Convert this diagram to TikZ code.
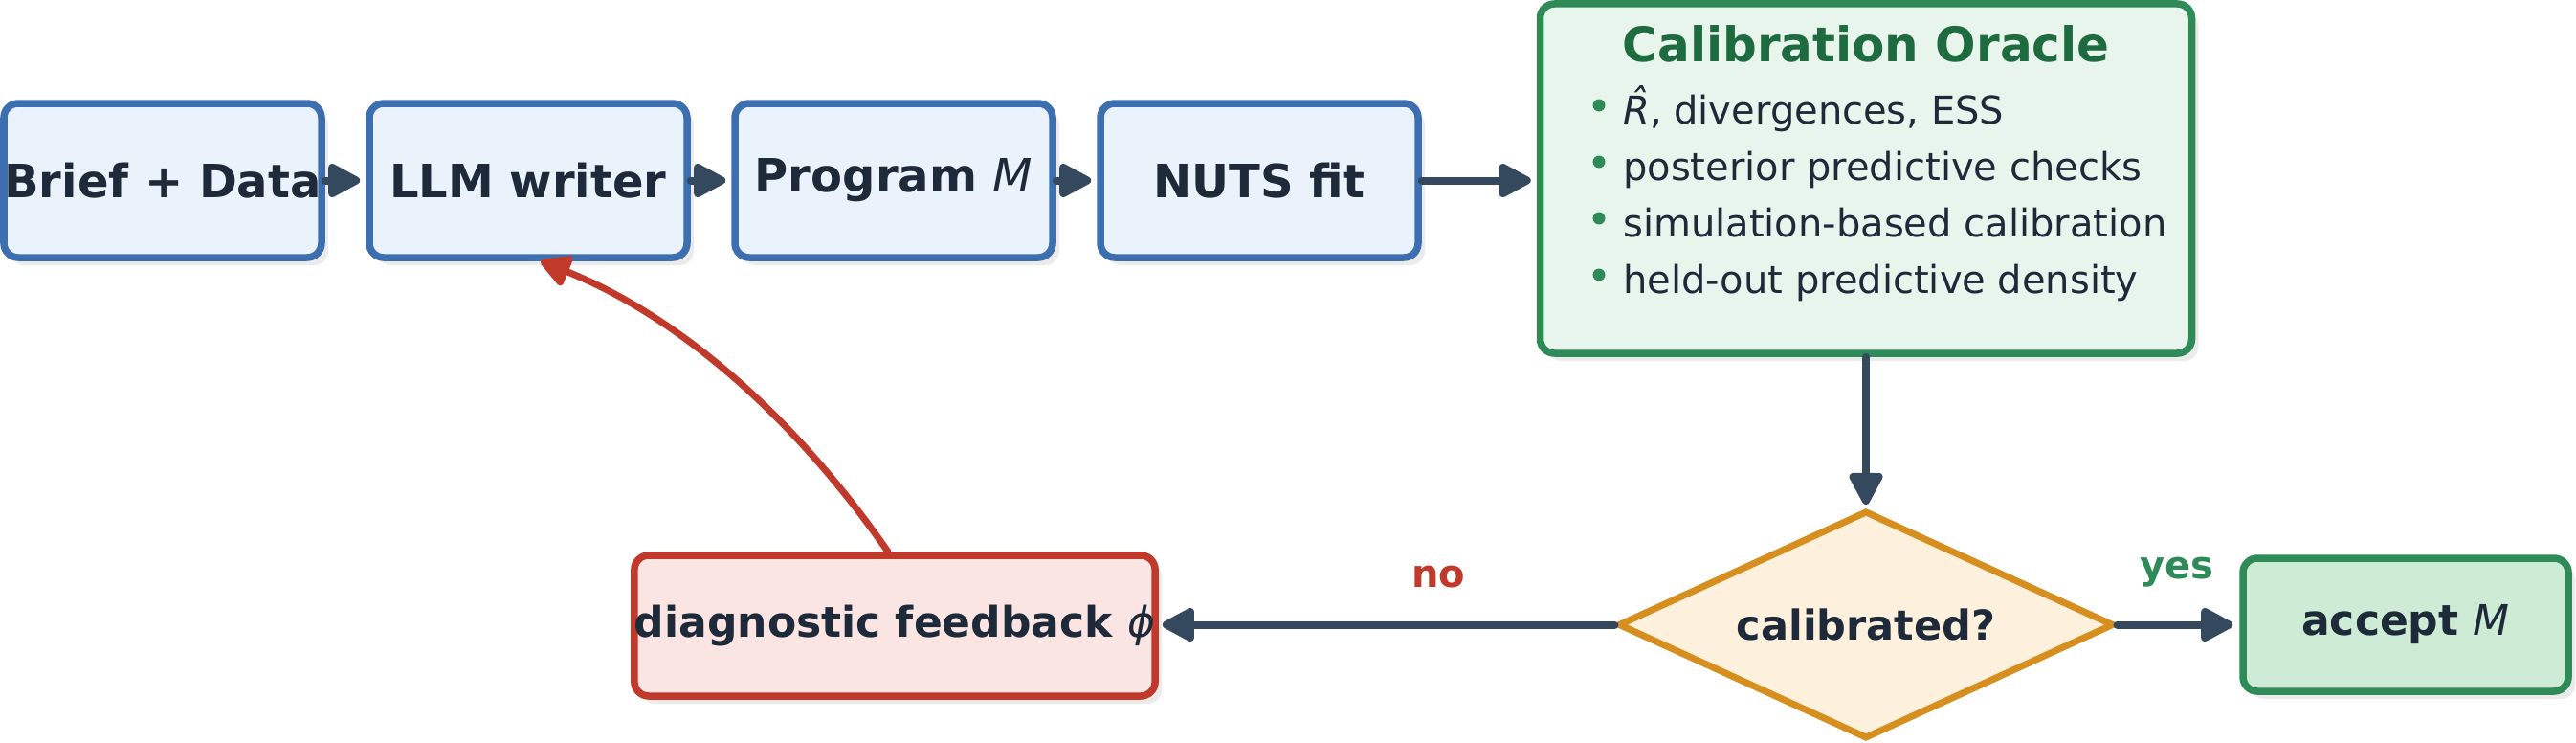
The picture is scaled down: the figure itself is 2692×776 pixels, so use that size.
\documentclass[tikz,border=0pt]{standalone}
\usepackage{fontspec}
\setmainfont{DejaVu Sans}
\usetikzlibrary{arrows.meta,shapes.geometric,shadows}
\definecolor{ink}{HTML}{1E2A3A}
\definecolor{arrowc}{HTML}{34495E}
\definecolor{blueB}{HTML}{3D6FB0}
\definecolor{blueF}{HTML}{EAF2FB}
\definecolor{greenB}{HTML}{2E8B57}
\definecolor{greenF}{HTML}{E8F5EC}
\definecolor{greenT}{HTML}{1E6B40}
\definecolor{accF}{HTML}{CDEBD5}
\definecolor{orangeB}{HTML}{D68F1E}
\definecolor{orangeF}{HTML}{FDF0DD}
\definecolor{redB}{HTML}{C0392B}
\definecolor{redF}{HTML}{FAE5E3}
\definecolor{shadowc}{HTML}{EBEBEB}
\begin{document}
\begin{tikzpicture}[x=1pt,y=-1pt,
  boxshadow/.style={drop shadow={opacity=1,fill=shadowc,shadow xshift=7pt,shadow yshift=-8pt}},
  basebox/.style={boxshadow, line width=7.5pt, rounded corners=15pt, inner sep=0pt, text=ink},
  box/.style={basebox, draw=blueB, fill=blueF, minimum width=332pt, minimum height=161pt,
    font=\fontsize{48}{58}\selectfont\bfseries},
  oraclebox/.style={basebox, draw=greenB, fill=greenF, minimum width=681pt,
    text height=61pt, text depth=304pt, text=greenT, font=\fontsize{50}{60}\selectfont\bfseries},
  item/.style={text=ink, font=\fontsize{40}{48}\selectfont, inner sep=0pt, anchor=base west},
  dot/.style={fill=greenB, draw=none},
  decision/.style={diamond, aspect=2.18, draw=orangeB, fill=orangeF, line width=7pt,
    minimum width=518pt, minimum height=238pt, inner sep=0pt, text=ink,
    font=\fontsize{43}{52}\selectfont\bfseries},
  accbox/.style={basebox, draw=greenB, fill=accF, minimum width=340pt, minimum height=139pt,
    font=\fontsize{44}{53}\selectfont\bfseries},
  fbbox/.style={basebox, draw=redB, fill=redF, minimum width=540pt, minimum height=147pt,
    font=\fontsize{44}{53}\selectfont\bfseries},
  arr/.style={draw=arrowc, line width=8pt, line cap=round,
    -{Triangle[length=38pt,width=38pt,round]}},
  redarr/.style={draw=redB, line width=7pt, line cap=round,
    -{Triangle[length=35pt,width=36pt,round]}},
  lbl/.style={font=\fontsize{40}{48}\selectfont\bfseries, inner sep=0pt, anchor=base}
]
\useasboundingbox (0,0) rectangle (2692,776);

\node[box] (brief) at (170,188.5) {Brief + Data};
\node[box] (llm) at (552,188.5) {LLM writer};
\node[box] (prog) at (934,188.5) {Program {\mdseries\itshape M}};
\node[box] (nuts) at (1316,188.5) {NUTS fit};

\node[oraclebox] (oracle) at (1950,186.5) {Calibration Oracle};
\node[item] (i1) at (1696,129) {{\itshape\accent"02C6 R}, divergences, ESS};
\node[item] (i2) at (1696,188) {posterior predictive checks};
\node[item] (i3) at (1696,247) {simulation-based calibration};
\node[item] (i4) at (1696,306) {held-out predictive density};
\fill[dot] (1671,110) circle (6.5);
\fill[dot] (1671,169) circle (6.5);
\fill[dot] (1671,228) circle (6.5);
\fill[dot] (1671,287) circle (6.5);

\node[decision] (dec) at (1950,652.5) {calibrated?};
\node[accbox] (acc) at (2514,652.5) {accept {\mdseries\itshape M}};
\node[fbbox] (fb) at (935,653.5) {diagnostic feedback {\mdseries\itshape ϕ}};

\draw[arr, shorten >=6pt] (brief.east) -- (llm.west);
\draw[arr, shorten >=6pt] (llm.east) -- (prog.west);
\draw[arr, shorten >=6pt] (prog.east) -- (nuts.west);
\draw[arr, shorten >=6pt] (nuts.east) -- (nuts.east -| oracle.west);
\draw[arr, shorten >=3pt] (oracle.south) -- (dec.north);
\draw[arr, shorten >=4pt] (dec.west) -- (dec.west -| fb.east);
\draw[arr, shorten >=7pt] (dec.east) -- (dec.east -| acc.west);
\draw[redarr] ([xshift=-7pt]fb.north) .. controls (827,431) and (706,329) .. ([xshift=13pt]llm.south);

\node[lbl, text=redB] (no) at (1503,613) {no};
\node[lbl, text=greenB] (yes) at (2275,604) {yes};
\end{tikzpicture}
\end{document}
